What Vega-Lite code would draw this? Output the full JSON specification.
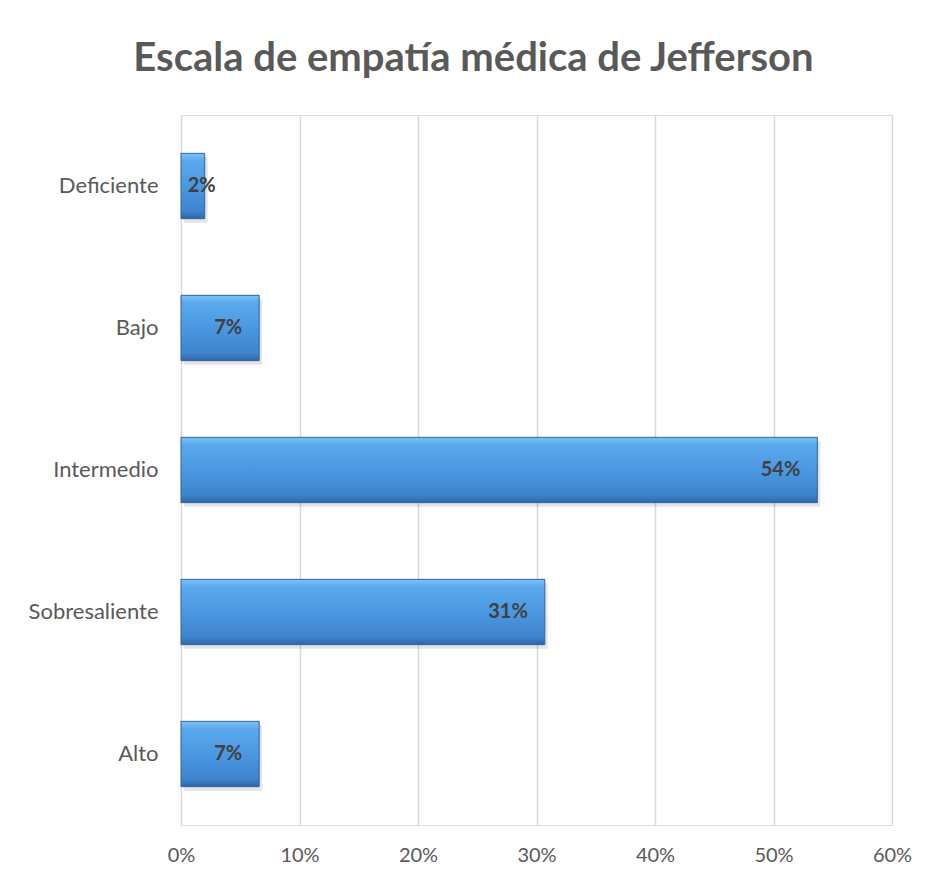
{
  "$schema": "https://vega.github.io/schema/vega-lite/v6.json",
  "width": 711,
  "height": 710,
  "autosize": {"type": "none"},
  "padding": {"left": 181, "top": 115, "right": 36, "bottom": 56},
  "background": "white",
  "title": {
    "text": "Escala de empatía médica de Jefferson",
    "font": "Lato",
    "fontSize": 40,
    "fontWeight": "bold",
    "color": "#595959",
    "anchor": "middle",
    "dx": -63,
    "offset": 36
  },
  "data": {
    "values": [
      {"categoria": "Deficiente", "valor": 0.020},
      {"categoria": "Bajo", "valor": 0.066},
      {"categoria": "Intermedio", "valor": 0.537},
      {"categoria": "Sobresaliente", "valor": 0.307},
      {"categoria": "Alto", "valor": 0.066}
    ]
  },
  "encoding": {
    "y": {
      "field": "categoria",
      "type": "nominal",
      "sort": ["Deficiente", "Bajo", "Intermedio", "Sobresaliente", "Alto"],
      "scale": {"paddingInner": 0.54, "paddingOuter": 0.27},
      "axis": {
        "title": null,
        "domain": false,
        "ticks": false,
        "labelFont": "Lato",
        "labelFontSize": 22,
        "labelColor": "#595959",
        "labelPadding": 23
      }
    },
    "x": {
      "field": "valor",
      "type": "quantitative",
      "scale": {"domain": [0, 0.6], "nice": false},
      "axis": {
        "title": null,
        "values": [0, 0.1, 0.2, 0.3, 0.4, 0.5, 0.6],
        "format": ".0%",
        "domain": false,
        "ticks": false,
        "grid": true,
        "gridColor": "#d9d9d9",
        "gridWidth": 1.5,
        "labelFont": "Lato",
        "labelFontSize": 20,
        "labelColor": "#595959",
        "labelPadding": 20,
        "labelFlush": false
      }
    }
  },
  "layer": [
    {
      "mark": {"type": "bar", "color": "#000000", "opacity": 0.1, "xOffset": 3, "yOffset": 4}
    },
    {
      "mark": {
        "type": "bar",
        "stroke": "#2e64a0",
        "strokeWidth": 1,
        "color": {
          "gradient": "linear",
          "x1": 0, "y1": 0, "x2": 0, "y2": 1,
          "stops": [
            {"offset": 0, "color": "#7cc4f6"},
            {"offset": 0.12, "color": "#5aa8ec"},
            {"offset": 0.5, "color": "#4b98e2"},
            {"offset": 0.88, "color": "#3f84cc"},
            {"offset": 1, "color": "#2f67a6"}
          ]
        }
      }
    },
    {
      "transform": [{"filter": "datum.valor >= 0.05"}],
      "mark": {"type": "text", "align": "right", "dx": -17, "font": "Lato", "fontSize": 20, "fontWeight": "bold", "color": "#404040"},
      "encoding": {"text": {"field": "valor", "type": "quantitative", "format": ".0%"}}
    },
    {
      "transform": [{"filter": "datum.valor < 0.05"}],
      "mark": {"type": "text", "align": "left", "dx": -17, "font": "Lato", "fontSize": 20, "fontWeight": "bold", "color": "#404040"},
      "encoding": {"text": {"field": "valor", "type": "quantitative", "format": ".0%"}}
    }
  ]
}
